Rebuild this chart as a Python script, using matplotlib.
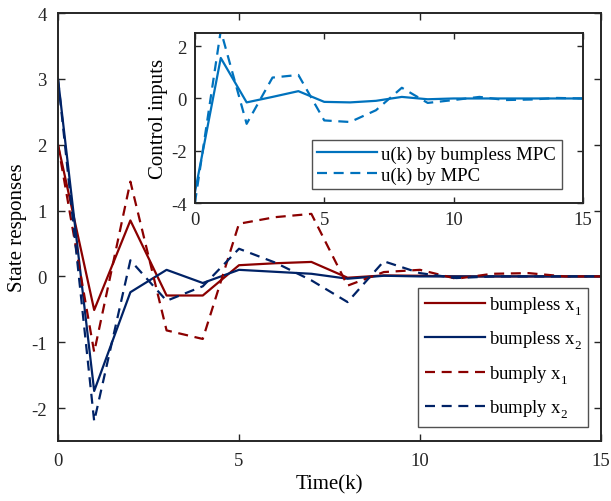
import matplotlib
matplotlib.use("Agg")
import matplotlib.pyplot as plt
import numpy as np
try:
    import matplotlib._mathtext as _mt
    _mt.FontConstantsBase.sub1 = 0.6
    _mt.FontConstantsBase.sub2 = 0.9
except Exception:
    pass

k = list(range(16))
bumpless_x1 = [2.0, -0.51, 0.85, -0.29, -0.29, 0.17, 0.20, 0.22, -0.02, 0.015, 0.01, 0.0, 0.0, 0.0, 0.0, 0.0]
bumpless_x2 = [3.0, -1.74, -0.24, 0.10, -0.10, 0.10, 0.07, 0.04, -0.035, 0.01, 0.0, 0.0, 0.0, 0.0, 0.0, 0.0]
bumply_x1 = [2.0, -1.15, 1.44, -0.82, -0.95, 0.80, 0.90, 0.95, -0.14, 0.066, 0.10, -0.035, 0.04, 0.05, 0.0, 0.0]
bumply_x2 = [3.0, -2.20, 0.245, -0.37, -0.15, 0.42, 0.21, -0.06, -0.39, 0.23, 0.05, -0.025, 0.0, 0.0, 0.0, 0.0]
u_bumpless = [-3.6, 1.55, -0.15, 0.06, 0.28, -0.13, -0.15, -0.09, 0.06, -0.03, 0.0, 0.0, 0.0, 0.0, 0.0, 0.0]
u_mpc = [-4.0, 2.6, -0.97, 0.80, 0.90, -0.84, -0.90, -0.45, 0.41, -0.17, -0.06, 0.06, -0.06, -0.04, 0.02, 0.0]

plt.rcParams['font.family'] = ['Liberation Serif', 'DejaVu Serif']
plt.rcParams['mathtext.fontset'] = 'custom'
plt.rcParams['mathtext.rm'] = 'Liberation Serif'
plt.rcParams['mathtext.it'] = 'Liberation Serif:italic'

RED = '#8B0000'
NAVY = '#002266'
BLUE = '#0072BD'
AXC = '#262626'
TFS = 13.5
LFS = 15
GFS = 13.5
DASH = (0, (4.5, 3))

fig = plt.figure(figsize=(6.11, 5.02), dpi=100)
ax = fig.add_axes([0.0949, 0.1195, 0.8887, 0.8525])
lw = 1.6
ax.plot(k, bumpless_x1, color=RED, lw=lw, label=r'bumpless x$_1$')
ax.plot(k, bumpless_x2, color=NAVY, lw=lw, label=r'bumpless x$_2$')
ax.plot(k, bumply_x1, color=RED, lw=lw, ls=DASH, label=r'bumply x$_1$')
ax.plot(k, bumply_x2, color=NAVY, lw=lw, ls=DASH, label=r'bumply x$_2$')
ax.set_xlim(0, 15)
ax.set_ylim(-2.5, 4)
ax.set_xticks([0, 5, 10, 15])
ax.set_yticks([-2, -1, 0, 1, 2, 3, 4])
ax.set_yticklabels(['-2', '-1', '0', '1', '2', '3', '4'])
ax.set_xlabel('Time(k)', fontsize=LFS, labelpad=4)
ax.set_ylabel('State responses', fontsize=LFS, labelpad=3)
ax.tick_params(direction='in', top=True, right=True, labelsize=TFS, colors=AXC, length=5, width=1.0, pad=8)
for s in ax.spines.values():
    s.set_linewidth(1.4)
    s.set_color(AXC)
leg = ax.legend(loc='lower right', fontsize=GFS, frameon=True, fancybox=False, edgecolor=AXC,
                bbox_to_anchor=(0.976, 0.033), borderaxespad=0.0, handlelength=3.2, handletextpad=0.2,
                labelspacing=0.65, borderpad=0.35)
leg.get_frame().set_linewidth(1.0)

ins = fig.add_axes([0.319, 0.5936, 0.635, 0.3384])
ins.plot(k, u_bumpless, color=BLUE, lw=lw, label='u(k) by bumpless MPC')
ins.plot(k, u_mpc, color=BLUE, lw=lw, ls=DASH, label='u(k) by MPC')
ins.set_xlim(0, 15)
ins.set_ylim(-4, 2.5)
ins.set_xticks([0, 5, 10, 15])
ins.set_yticks([-4, -2, 0, 2])
ins.set_yticklabels(['-4', '-2', '0', '2'])
ins.set_ylabel('Control inputs', fontsize=LFS, labelpad=2)
ins.tick_params(direction='in', top=True, right=True, labelsize=TFS, colors=AXC, length=4, width=1.0, pad=6)
for s in ins.spines.values():
    s.set_linewidth(1.4)
    s.set_color(AXC)
leg2 = ins.legend(loc='lower right', fontsize=GFS, frameon=True, fancybox=False, edgecolor=AXC,
                  borderaxespad=0.0, handlelength=3.2, handletextpad=0.2, labelspacing=0.2, borderpad=0.3,
                  bbox_to_anchor=(0.945, 0.08))
leg2.get_frame().set_linewidth(1.0)

fig.savefig('out.png', dpi=100)
